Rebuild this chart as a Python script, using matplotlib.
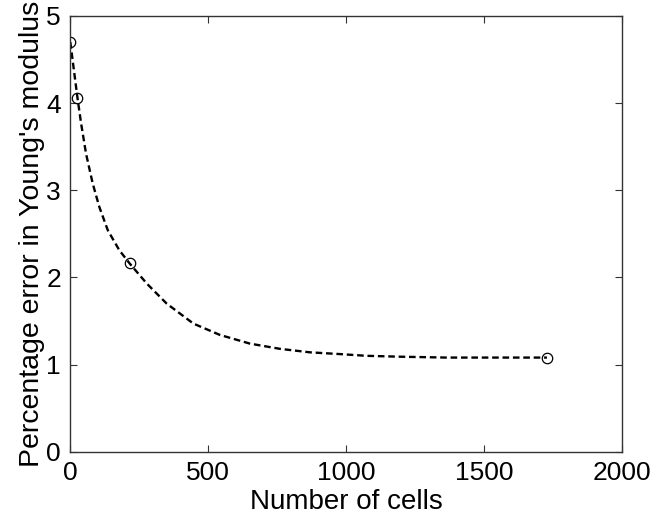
import matplotlib
matplotlib.use("Agg")
import matplotlib.pyplot as plt

plt.rcParams['font.family'] = ['Liberation Sans', 'DejaVu Sans']

# Data points (markers)
cells = [1, 27, 216, 1728]
error_pct = [4.70, 4.06, 2.16, 1.08]

# Dashed fitted curve
curve_x = [1, 27, 40, 58, 82, 106, 137, 179, 216, 278, 350, 447, 543, 652,
           761, 870, 978, 1075, 1196, 1365, 1550, 1728]
curve_y = [4.70, 4.06, 3.77, 3.42, 3.08, 2.81, 2.54, 2.31, 2.16, 1.93, 1.70,
           1.47, 1.34, 1.24, 1.18, 1.14, 1.12, 1.10, 1.09, 1.08, 1.08, 1.08]

x_ticks = [0, 500, 1000, 1500, 2000]
y_ticks = [0, 1, 2, 3, 4, 5]

fig = plt.figure(figsize=(6.52, 5.19), dpi=100)
ax = fig.add_axes([0.1074, 0.1297, 0.8466, 0.8395])

ax.plot(curve_x, curve_y, linestyle=(0, (2.8, 1.6)), color='black', linewidth=1.7)
ax.plot(cells, error_pct, linestyle='none', marker='o', markersize=7.5,
        markerfacecolor='none', markeredgecolor='black', markeredgewidth=0.9)

ax.set_xlim(0, 2000)
ax.set_ylim(0, 5)
ax.set_xticks(x_ticks)
ax.set_yticks(y_ticks)
ax.tick_params(direction='in', length=5, width=0.8, top=True, right=True,
               labelsize=19, pad=6.5, color='#333333')
for s in ax.spines.values():
    s.set_linewidth(1.0)
    s.set_color('#333333')

ax.set_xlabel('Number of cells', fontsize=20, labelpad=3)
ax.set_ylabel("Percentage error in Young's modulus", fontsize=20.5, labelpad=1)

fig.savefig('out.png', dpi=100)
